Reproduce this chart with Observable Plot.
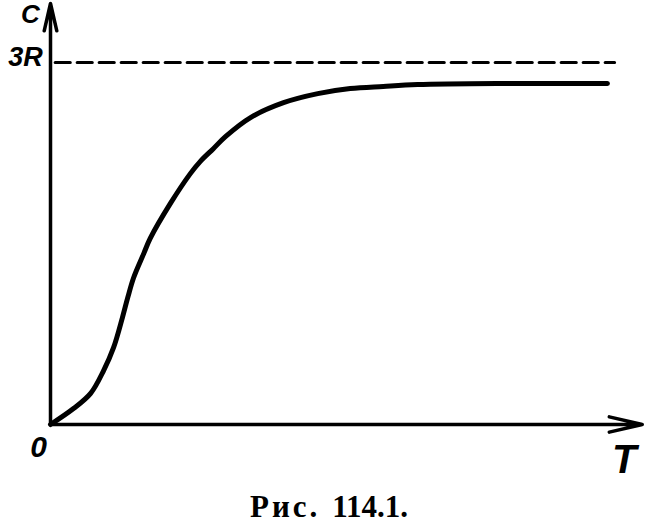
<!DOCTYPE html>
<html>
<head>
<meta charset="utf-8">
<script src="https://cdn.jsdelivr.net/npm/d3@7"></script>
<script src="https://cdn.jsdelivr.net/npm/@observablehq/plot@0.6"></script>
<style>
  html, body { margin: 0; padding: 0; background: white; }
  #chart svg { display: block; }
  #caption { width: 652px; padding-left: 6px; box-sizing: border-box; text-align: center; font-family: "Liberation Serif", "DejaVu Serif", serif; font-size: 31px; font-weight: bold; line-height: 31px; margin-top: 11px; color: black; word-spacing: 4px; }
  #caption .w { letter-spacing: 3px; }
</style>
</head>
<body>
<div id="chart"></div>
<div id="caption"><span class="w">Рис.</span> 114.1.</div>
<script>
// Temperature (arbitrary units) and heat capacity C (in units of 3R)
const T = [0, 3.9, 6.8, 9.0, 10.7, 12.2, 13.1, 14.1, 15.8, 16.9, 20.3, 23.7, 25.4, 27.6, 29.7, 33.9, 39.5, 45.3, 50.8, 56.4, 62.2, 76.3, 94.4];
const C = [0, 0.044, 0.086, 0.149, 0.213, 0.296, 0.351, 0.406, 0.472, 0.514, 0.610, 0.693, 0.727, 0.762, 0.796, 0.848, 0.889, 0.914, 0.928, 0.934, 0.939, 0.942, 0.942];
// Dulong–Petit limit 3R
const limitValue = 1;
const limitStartT = 0.8;
const limitEndT = 95.6;
// Axis extents
const axisTmax = 100.3;
const axisCmax = 1.163;
// Labels
const axisLabels = ["C", "T"];
const limitLabel = "3R";
const originLabel = "0";

const curve = T.map((t, i) => ({T: t, C: C[i]}));
const axes = [
  {x1: 0, y1: 0, x2: axisTmax, y2: 0, head: 14.5},
  {x1: 0, y1: 0, x2: 0, y2: axisCmax, head: 12}
];

const font = "'Liberation Sans', 'DejaVu Sans', sans-serif";
const lbl = {fontStyle: "italic", fontWeight: "bold", fontFamily: font, fill: "black"};

const chart = Plot.plot({
  width: 652,
  height: 480,
  marginLeft: 50,
  marginRight: 12,
  marginTop: 3,
  marginBottom: 56,
  style: {background: "white", overflow: "visible"},
  x: {domain: [0, 100], axis: null},
  y: {domain: [0, axisCmax], axis: null},
  marks: [
    // axes with arrows
    Plot.arrow([axes[0]], {x1: "x1", y1: "y1", x2: "x2", y2: "y2", stroke: "black", strokeWidth: 3.5, headLength: axes[0].head, headAngle: 26}),
    Plot.arrow([axes[1]], {x1: "x1", y1: "y1", x2: "x2", y2: "y2", stroke: "black", strokeWidth: 3.5, headLength: axes[1].head, headAngle: 26}),
    // 3R dashed asymptote
    Plot.line([{T: limitStartT, C: limitValue}, {T: limitEndT, C: limitValue}], {x: "T", y: "C", stroke: "black", strokeWidth: 3.2, strokeDasharray: "15,7"}),
    // heat capacity curve
    Plot.line(curve, {x: "T", y: "C", curve: "catmull-rom", stroke: "black", strokeWidth: 5, strokeLinecap: "round"}),
    // labels
    Plot.text([axisLabels[0]], {x: 0, y: axisCmax, text: d => d, dx: -20, dy: 11, fontSize: 26, ...lbl}),
    Plot.text([limitLabel], {x: 0, y: limitValue, text: d => d, dx: -25, dy: -5, fontSize: 27, ...lbl}),
    Plot.text([originLabel], {x: 0, y: 0, text: d => d, dx: -12, dy: 23, fontSize: 30, ...lbl}),
    Plot.text([axisLabels[1]], {x: axisTmax, y: 0, text: d => d, dx: -18, dy: 36, fontSize: 40, ...lbl})
  ]
});
document.getElementById("chart").appendChild(chart);
</script>
</body>
</html>
